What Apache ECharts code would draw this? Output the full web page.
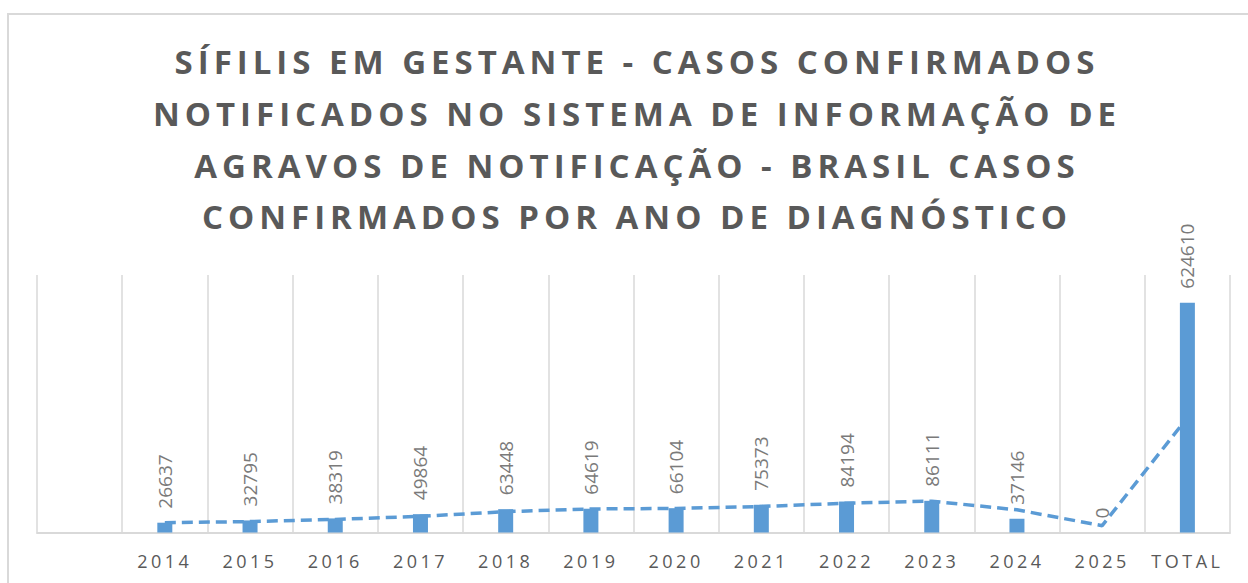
<!DOCTYPE html>
<html>
<head>
<meta charset="utf-8">
<script src="https://cdn.jsdelivr.net/npm/echarts@6/dist/echarts.min.js"></script>
<style>
html, body { margin: 0; padding: 0; width: 1248px; height: 583px; overflow: hidden; background: #ffffff; }
#frame { position: absolute; left: 7px; top: 13px; width: 1300px; height: 620px; border: 2px solid #d9d9d9; box-sizing: border-box; }
#chart { position: absolute; left: 0; top: 0; width: 1274px; height: 583px; }
</style>
</head>
<body>
<div id="frame"></div>
<div id="chart"></div>
<script>
// ---- data ----
const titleLines = [
  'SÍFILIS EM GESTANTE - CASOS CONFIRMADOS',
  'NOTIFICADOS NO SISTEMA DE INFORMAÇÃO DE',
  'AGRAVOS DE NOTIFICAÇÃO - BRASIL CASOS',
  'CONFIRMADOS POR ANO DE DIAGNÓSTICO'
];
const categories = ['', '2014', '2015', '2016', '2017', '2018', '2019', '2020', '2021', '2022', '2023', '2024', '2025', 'TOTAL'];
const cases = [null, 26637, 32795, 38319, 49864, 63448, 64619, 66104, 75373, 84194, 86111, 37146, 0, 624610];
// dashed trend line (2-period moving average as drawn in the chart)
const trend = [null, 26637, 29716, 35557, 44092, 56656, 64034, 65362, 70739, 79784, 85153, 61629, 18573, 312305];
const yMax = 700000;

const chart = echarts.init(document.getElementById('chart'), null, { renderer: 'svg' });
chart.setOption({
  animation: false,
  backgroundColor: 'transparent',
  title: {
    text: titleLines.join('\n'),
    left: 'center',
    top: 31,
    textStyle: {
      fontFamily: 'Open Sans',
      fontWeight: 'bold',
      fontSize: 33,
      lineHeight: 51.7,
      color: '#595959'
    }
  },
  grid: { left: 37, right: 44, top: 275, bottom: 50.5, containLabel: false },
  xAxis: {
    type: 'category',
    data: categories,
    boundaryGap: true,
    axisLine: { show: true, lineStyle: { color: '#d9d9d9', width: 2 } },
    axisTick: { show: false },
    splitLine: { show: true, interval: 0, lineStyle: { color: '#d9d9d9', width: 1.5 } },
    axisLabel: {
      interval: 0,
      margin: 19,
      fontFamily: 'Open Sans',
      fontSize: 18,
      color: '#595959'
    }
  },
  yAxis: {
    type: 'value',
    min: 0,
    max: yMax,
    show: false,
    splitLine: { show: false }
  },
  series: [
    {
      type: 'line',
      data: trend,
      symbol: 'none',
      smooth: false,
      lineStyle: { color: '#5b9bd5', width: 3.5, type: [11, 6] },
      z: 2
    },
    {
      type: 'bar',
      data: cases,
      barWidth: 15,
      itemStyle: { color: '#5b9bd5' },
      z: 3,
      label: {
        show: true,
        position: 'top',
        distance: 14,
        rotate: 90,
        align: 'left',
        verticalAlign: 'middle',
        fontFamily: 'Open Sans',
        fontSize: 19,
        color: '#7a7a7a'
      }
    }
  ]
});

// letter spacing for title lines and category labels (as in the reference)
function applySpacing() {
  const texts = document.querySelectorAll('#chart svg text');
  texts.forEach(function (t) {
    const s = t.textContent;
    if (titleLines.indexOf(s) >= 0) {
      t.style.letterSpacing = '5px';
    } else if (categories.indexOf(s) >= 0 && s !== '') {
      t.style.letterSpacing = '3.5px';
    }
  });
}
applySpacing();
chart.on('finished', applySpacing);
</script>
</body>
</html>
